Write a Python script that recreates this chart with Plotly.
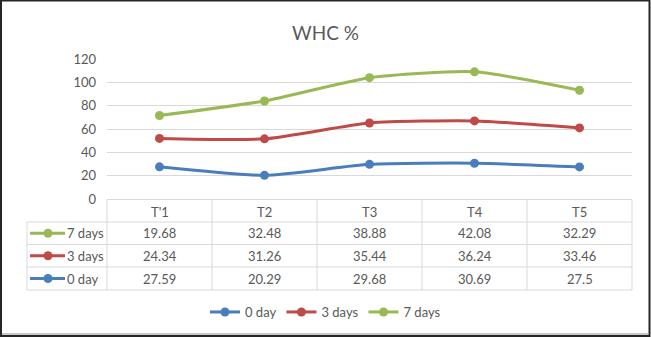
import numpy as np
import plotly.graph_objects as go

# Treatments and water-holding capacity (%) at each storage time
categories = ["T'1", "T2", "T3", "T4", "T5"]
series_names = ["0 day", "3 days", "7 days"]
day0 = [27.59, 20.29, 29.68, 30.69, 27.5]
day3 = [24.34, 31.26, 35.44, 36.24, 33.46]
day7 = [19.68, 32.48, 38.88, 42.08, 32.29]
y_ticks = [0, 20, 40, 60, 80, 100, 120]

colors = ["#4A7EBB", "#BE4B48", "#98B954"]
FONT = "Lato"
GREY = "#595959"
GRID = "#D9D9D9"

W, H = 651, 337
L, R, T, B = 107, 632, 59, 199  # plot area in pixels


def px(x):
    return (x - L) / (R - L)


def py(y):
    return (B - y) / (B - T)


values = [day0, day3, day7]
stacked = np.cumsum(np.array(values), axis=0)

fig = go.Figure()
for name, ys, col in zip(series_names, stacked, colors):
    fig.add_trace(go.Scatter(
        x=list(range(len(categories))), y=ys, name=name,
        mode="lines+markers",
        line=dict(color=col, width=3, shape="spline", smoothing=0.6),
        marker=dict(color=col, size=9),
        cliponaxis=False,
    ))

shapes = []
annotations = []
txt = dict(size=13, color=GREY, family=FONT)

# data table grid
col_edges = [L + i * (R - L) / len(categories) for i in range(len(categories) + 1)]
row_edges = [200, 222, 244.5, 267, 290]
for x in col_edges:
    shapes.append(dict(type="line", xref="paper", yref="paper",
                       x0=px(x), x1=px(x), y0=py(row_edges[0]), y1=py(row_edges[-1]),
                       line=dict(color=GRID, width=1)))
shapes.append(dict(type="line", xref="paper", yref="paper",
                   x0=px(27), x1=px(27), y0=py(row_edges[1]), y1=py(row_edges[-1]),
                   line=dict(color=GRID, width=1)))
for y in row_edges[1:]:
    shapes.append(dict(type="line", xref="paper", yref="paper",
                       x0=px(27), x1=px(R), y0=py(y), y1=py(y),
                       line=dict(color=GRID, width=1)))

# header row
for i, c in enumerate(categories):
    annotations.append(dict(x=i, xref="x", y=py(211.5), yref="paper", text=c,
                            xanchor="center", yanchor="middle",
                            showarrow=False, font=txt))

# value rows (7 days on top, 0 day at bottom)
row_order = [2, 1, 0]
for r, si in enumerate(row_order):
    yc = (row_edges[r + 1] + row_edges[r + 2]) / 2
    for i, v in enumerate(values[si]):
        annotations.append(dict(x=i, xref="x", y=py(yc), yref="paper", text=f"{v:g}",
                                xanchor="center", yanchor="middle",
                                showarrow=False, font=txt))
    # legend key in the row header
    shapes.append(dict(type="line", xref="paper", yref="paper",
                       x0=px(30), x1=px(65), y0=py(yc), y1=py(yc),
                       line=dict(color=colors[si], width=3)))
    shapes.append(dict(type="circle", xref="paper", yref="paper",
                       xsizemode="pixel", ysizemode="pixel",
                       xanchor=px(48), yanchor=py(yc),
                       x0=-4.5, x1=4.5, y0=-4.5, y1=4.5,
                       fillcolor=colors[si], line=dict(color=colors[si], width=0)))
    annotations.append(dict(x=px(65), xref="paper", y=py(yc), yref="paper",
                            text=series_names[si], xanchor="left", yanchor="middle",
                            showarrow=False, font=txt))

# outer frame
shapes.append(dict(type="rect", xref="paper", yref="paper",
                   x0=px(1), x1=px(649.5), y0=py(0.5), y1=py(336),
                   line=dict(color="#262626", width=2)))
shapes.append(dict(type="line", xref="paper", yref="paper",
                   x0=px(2), x1=px(648), y0=py(334), y1=py(334),
                   line=dict(color="#C8C8C8", width=2)))

fig.update_layout(
    width=W, height=H,
    margin=dict(l=L, r=W - R, t=T, b=H - B, pad=0),
    paper_bgcolor="white", plot_bgcolor="white",
    font=dict(family=FONT, color=GREY, size=13),
    title=dict(text="WHC %", x=0.5, xref="container", xanchor="center",
               y=1 - 33 / H, yref="container", yanchor="middle",
               font=dict(size=19, color=GREY, family=FONT)),
    xaxis=dict(range=[-0.5, len(categories) - 0.5], showticklabels=False,
               showgrid=False, zeroline=False, showline=False, fixedrange=True),
    yaxis=dict(range=[0, 120], tickvals=y_ticks, showgrid=True, gridcolor=GRID,
               gridwidth=1, zeroline=True, zerolinecolor=GRID, zerolinewidth=1,
               showline=False, ticks="", ticklabelstandoff=10,
               tickfont=txt),
    showlegend=True,
    legend=dict(orientation="h", xref="container", yref="container",
                x=0.5, xanchor="center", y=(H - 312) / H, yanchor="middle",
                font=txt, itemwidth=30, tracegroupgap=0),
    shapes=shapes,
    annotations=annotations,
)

fig.write_html("out.html")
